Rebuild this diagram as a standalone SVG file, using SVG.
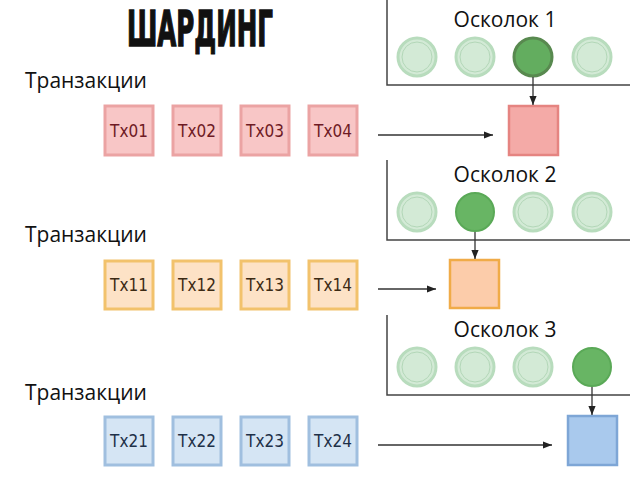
<svg xmlns="http://www.w3.org/2000/svg" width="640" height="482" viewBox="0 0 640 482">
<defs>
<marker id="ah" viewBox="0 0 10 10" refX="10" refY="5" markerWidth="9" markerHeight="9" markerUnits="userSpaceOnUse" orient="auto"><path d="M0,1 L10,5 L0,9 z" fill="#222"/></marker>
<style>
.lbl{font-family:"Open Sans","Noto Sans",sans-serif;font-size:21px;fill:#111}
.tx{font-family:"DejaVu Sans Condensed","Liberation Sans",sans-serif;font-size:17px;text-anchor:middle}
.r rect{fill:#f8c6c6;stroke:#eba3a3;stroke-width:3}
.r .tx{fill:#6e1a24}
.o rect{fill:#fde2c6;stroke:#f2c26c;stroke-width:3}
.o .tx{fill:#3c2a14}
.b rect{fill:#d5e5f4;stroke:#a0bfdf;stroke-width:3}
.b .tx{fill:#1e3048}
.axis{fill:none;stroke:#444;stroke-width:1.5}
.idle .c1{fill:#d3ead6;stroke:#b8dcbd;stroke-width:3}
.idle .c2{fill:none;stroke:#b3d7b8;stroke-width:1}
.act{fill:#68b564;stroke:#5aa957;stroke-width:2}
.conn line{stroke:#333;stroke-width:1.3;marker-end:url(#ah)}
</style>
</defs>
<rect width="640" height="482" fill="#fff"/>
<text x="127" y="46" font-family="DejaVu Sans Condensed,Liberation Sans Narrow,sans-serif" font-weight="bold" font-size="50" textLength="146" lengthAdjust="spacingAndGlyphs" fill="#111" stroke="#111" stroke-width="1.5">ШАРДИНГ</text>

<g id="shard1">
<path class="axis" d="M387,0 V85 H630"/>
<text class="lbl" x="505" y="27" text-anchor="middle">Осколок 1</text>
<g class="idle"><circle class="c1" cx="417" cy="57" r="19"/><circle class="c2" cx="417" cy="57" r="15"/></g>
<g class="idle"><circle class="c1" cx="475" cy="57" r="19"/><circle class="c2" cx="475" cy="57" r="15"/></g>
<circle cx="533" cy="57" r="19" fill="#63ad5f" stroke="#58894f" stroke-width="3"/>
<g class="idle"><circle class="c1" cx="592" cy="57" r="19"/><circle class="c2" cx="592" cy="57" r="15"/></g>
<rect x="509" y="106" width="49" height="49" fill="#f4aaa7" stroke="#e58481" stroke-width="2.5"/>
</g>

<g id="shard2">
<path class="axis" d="M387,160 V240 H630"/>
<text class="lbl" x="505" y="182" text-anchor="middle">Осколок 2</text>
<g class="idle"><circle class="c1" cx="417" cy="212" r="19"/><circle class="c2" cx="417" cy="212" r="15"/></g>
<circle class="act" cx="475" cy="212" r="19"/>
<g class="idle"><circle class="c1" cx="533" cy="212" r="19"/><circle class="c2" cx="533" cy="212" r="15"/></g>
<g class="idle"><circle class="c1" cx="592" cy="212" r="19"/><circle class="c2" cx="592" cy="212" r="15"/></g>
<rect x="450" y="260" width="49" height="48" fill="#fcccaa" stroke="#f0ab48" stroke-width="2.5"/>
</g>

<g id="shard3">
<path class="axis" d="M387,315 V395 H630"/>
<text class="lbl" x="505" y="337" text-anchor="middle">Осколок 3</text>
<g class="idle"><circle class="c1" cx="417" cy="367" r="19"/><circle class="c2" cx="417" cy="367" r="15"/></g>
<g class="idle"><circle class="c1" cx="475" cy="367" r="19"/><circle class="c2" cx="475" cy="367" r="15"/></g>
<g class="idle"><circle class="c1" cx="533" cy="367" r="19"/><circle class="c2" cx="533" cy="367" r="15"/></g>
<circle class="act" cx="592" cy="367" r="19"/>
<rect x="568" y="416" width="49" height="49" fill="#a9c9ed" stroke="#7ea6d6" stroke-width="2.5"/>
</g>

<g id="row1" class="r">
<text class="lbl" x="25" y="88">Транзакции</text>
<rect x="105" y="106" width="48" height="49"/><text class="tx" x="129" y="137">Tx01</text>
<rect x="173" y="106" width="48" height="49"/><text class="tx" x="197" y="137">Tx02</text>
<rect x="241" y="106" width="48" height="49"/><text class="tx" x="265" y="137">Tx03</text>
<rect x="309" y="106" width="48" height="49"/><text class="tx" x="333" y="137">Tx04</text>
</g>

<g id="row2" class="o">
<text class="lbl" x="25" y="242">Транзакции</text>
<rect x="105" y="261" width="48" height="48"/><text class="tx" x="129" y="291">Tx11</text>
<rect x="173" y="261" width="48" height="48"/><text class="tx" x="197" y="291">Tx12</text>
<rect x="241" y="261" width="48" height="48"/><text class="tx" x="265" y="291">Tx13</text>
<rect x="309" y="261" width="48" height="48"/><text class="tx" x="333" y="291">Tx14</text>
</g>

<g id="row3" class="b">
<text class="lbl" x="25" y="400">Транзакции</text>
<rect x="105" y="417" width="48" height="48"/><text class="tx" x="129" y="447">Tx21</text>
<rect x="173" y="417" width="48" height="48"/><text class="tx" x="197" y="447">Tx22</text>
<rect x="241" y="417" width="48" height="48"/><text class="tx" x="265" y="447">Tx23</text>
<rect x="309" y="417" width="48" height="48"/><text class="tx" x="333" y="447">Tx24</text>
</g>

<g id="connectors" class="conn">
<line x1="378" y1="135" x2="493" y2="135"/>
<line x1="533" y1="77" x2="533" y2="105"/>
<line x1="378" y1="289" x2="436" y2="289"/>
<line x1="475" y1="232" x2="475" y2="259"/>
<line x1="378" y1="445" x2="552" y2="445"/>
<line x1="592" y1="387" x2="592" y2="415"/>
</g>
</svg>
